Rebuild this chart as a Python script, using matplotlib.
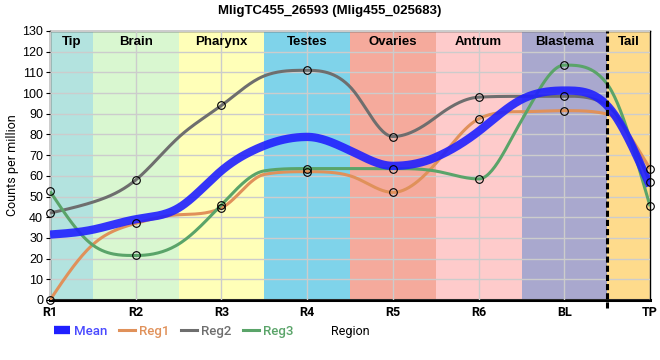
import matplotlib
matplotlib.use("Agg")
import matplotlib.pyplot as plt
from matplotlib.lines import Line2D
import numpy as np

regions = ["R1", "R2", "R3", "R4", "R5", "R6", "BL", "TP"]
reg1 = [0, 37, 44.5, 62, 52, 87.5, 91.5, 63.4]
reg2 = [42, 58, 94, 111, 79, 98, 98.5, 57]
reg3 = [52.5, 21.5, 46, 63.5, 63.5, 58.5, 113.5, 45.3]
mean = [31.6, 39.0, 62.5, 78.8, 64.8, 81.5, 101.2, 55.2]

# curve values read at the band borders (x = 0.5, 1.5, ... 6.5)
reg1_edges = [26.8, 41.2, 60.7, 60.0, 66.0, 91.0, 89.8]
reg2_edges = [47.3, 78.6, 108.3, 103.0, 88.3, 98.4, 94.0]
reg3_edges = [26.5, 27.0, 62.4, 63.5, 62.3, 86.7, 104.3]
mean_edges = [34.0, 44.5, 74.6, 72.2, 69.0, 96.9, 93.9]

bands = ["Tip", "Brain", "Pharynx", "Testes", "Ovaries", "Antrum", "Blastema", "Tail"]
band_edges = [0, 0.5, 1.5, 2.5, 3.5, 4.5, 5.5, 6.5, 7]
band_colors = ["#b3e3df", "#d9f7d0", "#ffffb8", "#7fd3ea", "#f5aa9c",
               "#fecbcb", "#a9a8ce", "#fedb8c"]


def smooth_curve(x, y, n=30):
    # natural spline slopes, limited so the curve does not overshoot the knots
    x = np.asarray(x, float)
    y = np.asarray(y, float)
    k = len(x)
    h = np.diff(x)
    s = np.diff(y) / h
    A = np.zeros((k, k))
    r = np.zeros(k)
    A[0, 0] = A[-1, -1] = 1
    for i in range(1, k - 1):
        A[i, i - 1] = h[i - 1]
        A[i, i] = 2 * (h[i - 1] + h[i])
        A[i, i + 1] = h[i]
        r[i] = 6 * (s[i] - s[i - 1])
    m = np.linalg.solve(A, r)
    t = np.zeros(k)
    for i in range(k - 1):
        t[i] = s[i] - h[i] * (2 * m[i] + m[i + 1]) / 6
    t[-1] = s[-1] + h[-1] * (m[-2] + 2 * m[-1]) / 6
    for i in range(1, k - 1):
        if s[i - 1] * s[i] <= 0:
            t[i] = 0
    for i in range(k - 1):
        if s[i] == 0:
            t[i] = t[i + 1] = 0
            continue
        a, b = t[i] / s[i], t[i + 1] / s[i]
        if a < 0:
            t[i] = 0
        if b < 0:
            t[i + 1] = 0
        a, b = max(a, 0), max(b, 0)
        if a * a + b * b > 9:
            f = 3 / np.hypot(a, b)
            t[i] = f * a * s[i]
            t[i + 1] = f * b * s[i]
    xs, ys = [], []
    u = np.linspace(0, 1, n)
    for i in range(k - 1):
        h00 = 2 * u ** 3 - 3 * u ** 2 + 1
        h10 = u ** 3 - 2 * u ** 2 + u
        h01 = -2 * u ** 3 + 3 * u ** 2
        h11 = u ** 3 - u ** 2
        xs.append(x[i] + u * h[i])
        ys.append(h00 * y[i] + h10 * h[i] * t[i] + h01 * y[i + 1] + h11 * h[i] * t[i + 1])
    return np.concatenate(xs), np.concatenate(ys)


def knots(vals, edges):
    kx, ky = [], []
    for i, v in enumerate(vals):
        kx.append(i)
        ky.append(v)
        if i < len(edges):
            kx.append(i + 0.5)
            ky.append(edges[i])
    return kx, ky


xpos = np.arange(len(regions))

plt.rcParams['font.family'] = ['Liberation Sans', 'DejaVu Sans']
fig = plt.figure(figsize=(6.6, 3.6), dpi=100)
ax = fig.add_axes([0.0758, 0.1667, 0.9092, 0.7473])

for i in range(len(bands)):
    ax.axvspan(band_edges[i], band_edges[i + 1], color=band_colors[i], lw=0, zorder=0)
    ax.text((band_edges[i] + band_edges[i + 1]) / 2, 0.96, bands[i], transform=ax.get_xaxis_transform(),
            ha="center", va="center", fontsize=9.5, fontweight="bold")

ax.set_yticks(range(0, 131, 10))
ax.grid(True, color="#cccccc", lw=1, zorder=1)
ax.set_axisbelow(False)

cols = {"Reg1": "#e0915a", "Reg2": "#6e6e6e", "Reg3": "#5aa469"}
for name, vals, ed in [("Reg1", reg1, reg1_edges), ("Reg2", reg2, reg2_edges), ("Reg3", reg3, reg3_edges)]:
    cx, cy = smooth_curve(*knots(vals, ed))
    ax.plot(cx, cy, color=cols[name], lw=2.2, zorder=3, solid_capstyle="butt")
mx, my = smooth_curve(*knots(mean, mean_edges))
ax.plot(mx, my, color="#2020ff", alpha=0.9, lw=6, zorder=4, solid_capstyle="butt")
for vals in [reg1, reg2, reg3]:
    ax.plot(xpos, vals, "o", mfc="none", mec="black", ms=5.5, mew=0.8, zorder=5, clip_on=False)

ax.axvline(6.5, color="black", lw=2.2, ls=(0, (2, 1)), zorder=6, ymin=-0.03, clip_on=False)

ax.set_xlim(0, 7)
ax.set_ylim(0, 130)
ax.set_xticks(xpos)
ax.set_xticklabels(regions, fontsize=9, fontweight="bold", family="Roboto")
ax.tick_params(axis="x", length=0, pad=4)
ax.tick_params(axis="y", length=3, width=0.8, pad=2, labelsize=9)
for sp in ax.spines.values():
    sp.set_color("black")
    sp.set_linewidth(1)
ax.spines["bottom"].set_linewidth(2.2)
ax.set_ylabel("Counts per million", fontsize=9, labelpad=2, family="Roboto")

fig.suptitle("MligTC455_26593 (Mlig455_025683)", fontsize=9.5, fontweight="bold", y=0.985)

handles = [Line2D([], [], color="#2020ff", lw=6, solid_capstyle="butt"),
           Line2D([], [], color=cols["Reg1"], lw=2.2),
           Line2D([], [], color=cols["Reg2"], lw=2.2),
           Line2D([], [], color=cols["Reg3"], lw=2.2)]
leg = fig.legend(handles, ["Mean", "Reg1", "Reg2", "Reg3"], loc="center left",
                 bbox_to_anchor=(0.064, 0.08), ncol=4, frameon=False,
                 prop={"family": "Roboto", "size": 9.5, "weight": "medium"},
                 handlelength=1.2, handletextpad=0.3, columnspacing=0.9,
                 labelcolor=["#4a4aff", cols["Reg1"], cols["Reg2"], cols["Reg3"]])
fig.text(331 / 660, 0.08, "Region", fontsize=9, va="center", ha="left", family="Roboto")

fig.savefig("out.png", dpi=100)
